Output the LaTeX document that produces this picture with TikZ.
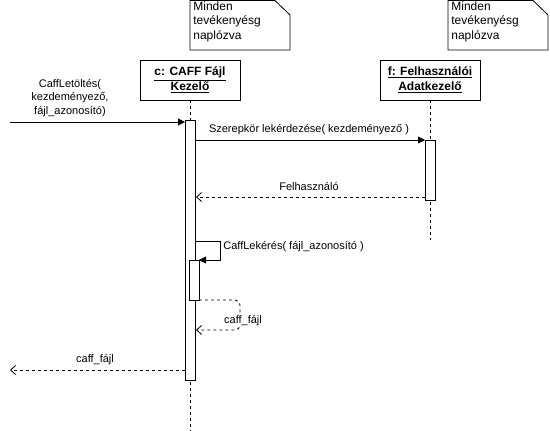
\documentclass[tikz,border=0pt]{standalone}
\usepackage{fontspec}
\setmainfont{Liberation Sans}
\usetikzlibrary{arrows.meta}
\begin{document}
\begin{tikzpicture}[x=1pt,y=-1pt,
  line width=0.8pt,
  msgfont/.style={font=\fontsize{11}{13.5}\selectfont},
  notefont/.style={font=\fontsize{12}{14.5}\selectfont},
  lifebox/.style={draw,fill=white,minimum width=100pt,minimum height=40pt,inner sep=0pt,
    align=center,font=\fontsize{12}{15}\selectfont\bfseries},
  actbox/.style={draw,fill=white,minimum width=10pt,inner sep=0pt},
  lifeline/.style={dash pattern=on 3pt off 3pt},
  callarrow/.style={-{Triangle[length=7pt,width=7pt]}},
  retarrow/.style={dash pattern=on 3pt off 3pt,-{Straight Barb[length=5pt,width=9pt,line width=0.8pt]}},
  notetext/.style={notefont,align=left,anchor=north west,inner sep=0pt}
]
\useasboundingbox (0,0) rectangle (550,431);

% notes with folded corner
\draw[fill=white] (190,0.5) -- (275,0.5) -- (290,15) -- (290,50) -- (190,50) -- cycle;
\node[notetext] (note1) at (193,1) {Minden\\tevékenyésg\\naplózva};
\draw[fill=white] (448,0.5) -- (533,0.5) -- (548,15) -- (548,50) -- (448,50) -- cycle;
\node[notetext] (note2) at (451,1) {Minden\\tevékenyésg\\naplózva};

% lifelines
\coordinate (cTop) at (190,100);
\coordinate (cEnd) at (190,431);
\coordinate (fTop) at (430,100);
\coordinate (fEnd) at (430,240);
\draw[lifeline] (cTop) -- (cEnd);
\draw[lifeline] (fTop) -- (fEnd);

% participant heads
\node[lifebox] (caff) at (190,80) {\underline{c: CAFF Fájl}\\\underline{Kezelő}};
\node[lifebox] (user) at (430,80) {\underline{f: Felhasználói}\\\underline{Adatkezelő}};

% activations
\node[actbox,minimum height=260pt] (actC) at (190,250) {};
\node[actbox,minimum height=60pt] (actF) at (430,170) {};
\node[actbox,minimum height=40pt] (actC2) at (194,280) {};

% incoming call
\coordinate (inStart) at (10,122);
\coordinate (inEnd) at (185,122);
\draw[callarrow] (inStart) -- (inEnd);
\node[msgfont,align=center] (inLbl) at (70,98) {CaffLetöltés(\\kezdeményező,\\fájl\_azonosító)};

% role query
\coordinate (q1) at (195,140);
\coordinate (q2) at (425,140);
\draw[callarrow] (q1) -- (q2);
\node[msgfont] (qLbl) at (309,130) {Szerepkör lekérdezése( kezdeményező )};

% user returned
\coordinate (r1) at (425,197);
\coordinate (r2) at (196,197);
\draw[retarrow] (r1) -- (r2);
\node[msgfont] (rLbl) at (309,187) {Felhasználó};

% self call
\coordinate (s1) at (195,241);
\coordinate (s2) at (199,260);
\draw[callarrow] (s1) -- (220,241) -- (220,260) -- (s2);
\node[msgfont,anchor=west,inner sep=0pt] (sLbl) at (223,247) {CaffLekérés( fájl\_azonosító )};

% self return
\coordinate (t1) at (199,300);
\coordinate (t2) at (196,330);
\draw[retarrow,rounded corners=5pt] (t1) -- (240,300) -- (240,330) -- (t2);
\node[msgfont,fill=white,inner sep=1pt] (tLbl) at (243,321) {caff\_fájl};

% final return
\coordinate (o1) at (185,370);
\coordinate (o2) at (10,370);
\draw[retarrow] (o1) -- (o2);
\node[msgfont] (oLbl) at (95,360) {caff\_fájl};
\end{tikzpicture}
\end{document}
